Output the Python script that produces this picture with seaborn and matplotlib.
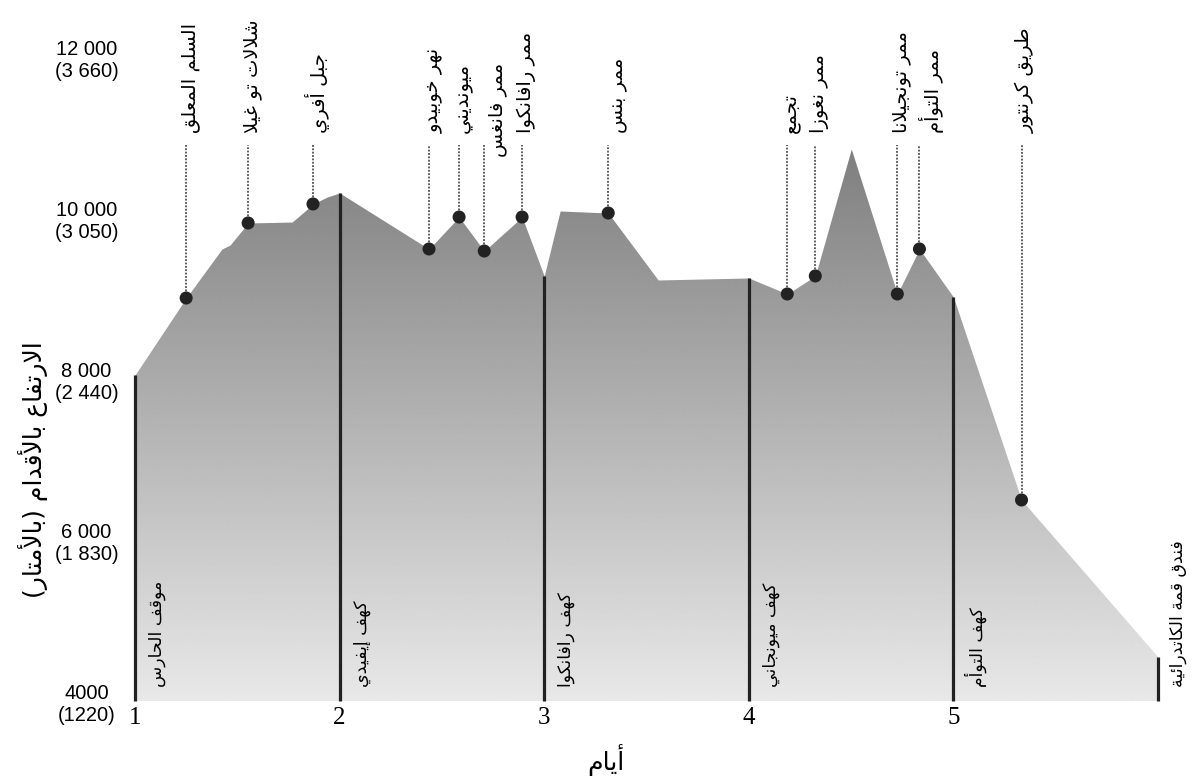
import numpy as np
import pandas as pd
import matplotlib
matplotlib.use("Agg")
import matplotlib.pyplot as plt
import seaborn as sns

# ---------------- data ----------------
profile_day = [1.0, 1.25, 1.425, 1.465, 1.553, 1.768, 1.82, 1.87, 1.94, 2.0,
               2.437, 2.584, 2.707, 2.892, 3.0, 3.078, 3.313, 3.557, 4.0,
               4.188, 4.325, 4.501, 4.726, 4.834, 5.0, 5.333, 6.0]
profile_ft = [8050, 9006, 9615, 9665, 9938, 9950, 10062, 10174, 10261, 10311,
              9615, 10012, 9590, 10012, 9280, 10087, 10062, 9230, 9255,
              9056, 9280, 10857, 9056, 9615, 9019, 6497, 4547]

waypoint_day = [1.25, 1.553, 1.87, 2.437, 2.584, 2.707, 2.892, 3.313,
                4.188, 4.325, 4.726, 4.834, 5.333]
waypoint_ft = [9006, 9938, 10174, 9615, 10012, 9590, 10012, 10062,
               9056, 9280, 9056, 9615, 6497]
waypoint_label = ["السلم المعلق", "شلالات تو غيلا", "جبل أفري", "نهر خوبيدو",
                  "ميونديني", "ممر فانغس", "ممر رافانكوا", "ممر بنس",
                  "تجمع", "ممر نغوزا", "ممر تونجيلانا", "ممر التوأم",
                  "طريق كرنتور"]

camp_day = [1, 2, 3, 4, 5, 6]
camp_label = ["موقف الحارس", "كهف إيفيدي", "كهف رافانكوا", "كهف ميونجاني",
              "كهف التوأم", "فندق قمة الكاتدرائية"]

ytick_ft = [4000, 6000, 8000, 10000, 12000]
ytick_label = ["4000\n(1220)", "6 000\n(1 830)", "8 000\n(2 440)",
               "10 000\n(3 050)", "12 000\n(3 660)"]
xtick_day = [1, 2, 3, 4, 5]
xtick_label = ["1", "2", "3", "4", "5"]

x_title = "أيام"
y_title = "الارتفاع بالأقدام (بالأمتار)"

# ------------- minimal Arabic shaping (matplotlib has no CTL) -------------
DUAL = {'ئ': 0xFE89, 'ب': 0xFE8F, 'ت': 0xFE95, 'ث': 0xFE99, 'ج': 0xFE9D,
        'ح': 0xFEA1, 'خ': 0xFEA5, 'س': 0xFEB1, 'ش': 0xFEB5, 'ص': 0xFEB9,
        'ض': 0xFEBD, 'ط': 0xFEC1, 'ظ': 0xFEC5, 'ع': 0xFEC9, 'غ': 0xFECD,
        'ف': 0xFED1, 'ق': 0xFED5, 'ك': 0xFED9, 'ل': 0xFEDD, 'م': 0xFEE1,
        'ن': 0xFEE5, 'ه': 0xFEE9, 'ي': 0xFEF1}
RIGHT = {'آ': 0xFE81, 'أ': 0xFE83, 'ؤ': 0xFE85, 'إ': 0xFE87, 'ا': 0xFE8D,
         'ة': 0xFE93, 'د': 0xFEA9, 'ذ': 0xFEAB, 'ر': 0xFEAD, 'ز': 0xFEAF,
         'و': 0xFEED, 'ى': 0xFEEF}
LAMALEF = {'آ': 0xFEF5, 'أ': 0xFEF7, 'إ': 0xFEF9, 'ا': 0xFEFB}


def ar(s):
    toks = []
    i = 0
    while i < len(s):
        c = s[i]
        if c == 'ل' and i + 1 < len(s) and s[i + 1] in LAMALEF:
            toks.append(('LA', s[i + 1]))
            i += 2
        else:
            toks.append(('C', c))
            i += 1

    def jt(t):
        if t[0] == 'LA':
            return 'R'
        if t[1] in DUAL:
            return 'D'
        if t[1] in RIGHT:
            return 'R'
        return 'U'

    out = []
    for k, t in enumerate(toks):
        j = jt(t)
        jp = k > 0 and jt(toks[k - 1]) == 'D' and j in ('D', 'R')
        jn = j == 'D' and k + 1 < len(toks) and jt(toks[k + 1]) in ('D', 'R')
        if t[0] == 'LA':
            out.append(chr(LAMALEF[t[1]] + (1 if jp else 0)))
        elif j == 'D':
            off = 3 if (jp and jn) else 1 if jp else 2 if jn else 0
            out.append(chr(DUAL[t[1]] + off))
        elif j == 'R':
            out.append(chr(RIGHT[t[1]] + (1 if jp else 0)))
        else:
            out.append(t[1])
    vis = ''.join(reversed(out))
    return vis.translate(str.maketrans('()', ')('))


# ---------------- style ----------------
sns.set_theme(style="white")
plt.rcParams['font.family'] = ['DejaVu Sans']
AR = ['DejaVu Sans']
DARK = '#222222'

fig = plt.figure(figsize=(11.95, 7.83), dpi=100)
ax = fig.add_axes([135 / 1195, 82 / 783, 1023 / 1195, 644 / 783])

df = pd.DataFrame({'day': profile_day, 'ft': profile_ft})
wp = pd.DataFrame({'day': waypoint_day, 'ft': waypoint_ft, 'name': waypoint_label})

# gradient fill under the profile
top = max(profile_ft)
grad = np.linspace(232, 127, 256).reshape(-1, 1)
ax.imshow(grad, extent=[profile_day[0], profile_day[-1], 4000, top], origin='lower',
          cmap='gray', vmin=0, vmax=255, aspect='auto', zorder=1,
          interpolation='bilinear')
# white cover above the profile (slightly widened past both ends)
cover_x = [profile_day[0] - 0.02] + profile_day + [profile_day[-1] + 0.02]
cover_y = [profile_ft[0]] + profile_ft + [profile_ft[-1]]
ax.fill_between(cover_x, cover_y, top + 300, color='white', lw=0, zorder=2,
                clip_on=False)

# camp (day) lines
camp_ft = np.interp(camp_day, profile_day, profile_ft)
ax.vlines(camp_day, 4000, camp_ft, color=DARK, lw=2.3, zorder=3, clip_on=False)

# dotted leaders
label_base = 11056
leader_top = 10907
ax.vlines(wp['day'], wp['ft'], leader_top, color='#333333', lw=1.1,
          linestyles=(0, (1.2, 1.0)), zorder=3)

# markers
sns.scatterplot(data=wp, x='day', y='ft', ax=ax, s=88, color=DARK,
                edgecolor='none', zorder=5, clip_on=False, legend=False)

# waypoint labels
nudge = {5: (13, -24), 7: (10, 0), 11: (12, 0)}
for i, (d, name) in enumerate(zip(waypoint_day, waypoint_label)):
    dx, dy = nudge.get(i, (4, 0))
    ax.annotate(ar(name), xy=(d, label_base), xytext=(dx, dy),
                textcoords='offset pixels', rotation=90, ha='center',
                va='bottom', fontsize=14, family=AR, color='black',
                annotation_clip=False, zorder=6)

# camp labels
for d, name in zip(camp_day, camp_label):
    ax.annotate(ar(name), xy=(d, 4000), xytext=(22 if d < 6 else 20, 14),
                textcoords='offset pixels', rotation=90, ha='center',
                va='bottom', fontsize=12.5, family=AR, color='black',
                annotation_clip=False, zorder=6)

ax.set_xlim(1, 6)
ax.set_ylim(4000, 12000)
for s in ax.spines.values():
    s.set_visible(False)
ax.grid(False)

ax.set_xticks(xtick_day, xtick_label)
ax.set_yticks(ytick_ft, ytick_label)
ax.tick_params(axis='x', length=0, pad=4)
ax.tick_params(axis='y', length=0, pad=35)
for t in ax.get_xticklabels():
    t.set_fontfamily(['Liberation Serif'])
    t.set_fontsize(18)
    t.set_color('black')
for t in ax.get_yticklabels():
    t.set_fontfamily(['Liberation Sans'])
    t.set_fontsize(14.5)
    t.set_ha('center')
    t.set_multialignment('center')
    t.set_color('black')

ax.set_xlabel(ar(x_title), fontsize=18, family=AR, color='black')
ax.xaxis.set_label_coords((606 - 135) / 1023, -(760 - 701) / 644)
ax.xaxis.label.set_va('center')
ax.set_ylabel(ar(y_title), fontsize=18, family=AR, color='black')
ax.yaxis.set_label_coords((33 - 135) / 1023, (701 - 470) / 644)
ax.yaxis.label.set_va('center')

fig.savefig('out.png', dpi=100, facecolor='white')
